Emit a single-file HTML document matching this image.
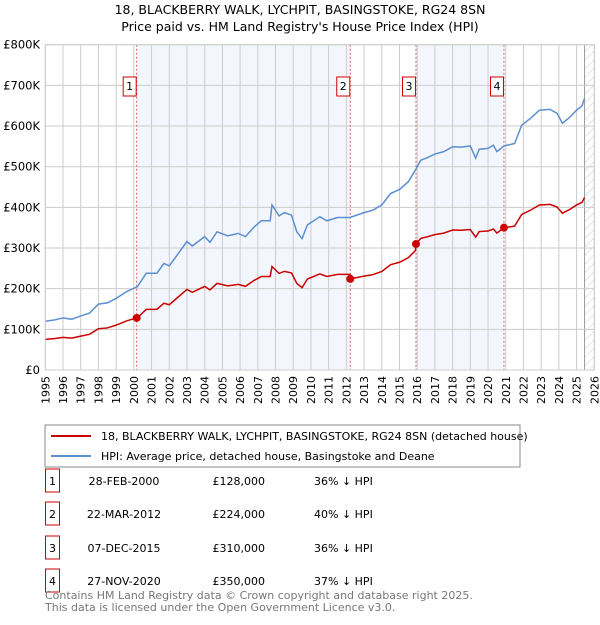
<!DOCTYPE html>
<html><head><meta charset="utf-8"><style>
body{margin:0;background:#fff;font-family:"Liberation Sans","DejaVu Sans",sans-serif;}
svg text{font-family:"DejaVu Sans","Liberation Sans",sans-serif;}
</style></head><body>
<svg id="c" width="600" height="620" xmlns="http://www.w3.org/2000/svg">
<defs><pattern id="hatch" width="6" height="6" patternUnits="userSpaceOnUse" patternTransform="rotate(45)"><line x1="0" y1="0" x2="0" y2="6" stroke="#ccc" stroke-width="1"/></pattern></defs>
<text x="300" y="14" text-anchor="middle" font-size="12.5" fill="#000">18, BLACKBERRY WALK, LYCHPIT, BASINGSTOKE, RG24 8SN</text>
<text x="300" y="31" text-anchor="middle" font-size="12.5" fill="#000">Price paid vs. HM Land Registry's House Price Index (HPI)</text>
<g id="plot"></g>
<rect x="45" y="425" width="475" height="42" fill="#fff" stroke="#888"/>
<line x1="51" y1="436" x2="91" y2="436" stroke="#cc0000" stroke-width="2"/>
<text x="101" y="440" font-size="11">18, BLACKBERRY WALK, LYCHPIT, BASINGSTOKE, RG24 8SN (detached house)</text>
<line x1="51" y1="456" x2="91" y2="456" stroke="#5b8fd0" stroke-width="2"/>
<text x="101" y="460" font-size="11">HPI: Average price, detached house, Basingstoke and Deane</text>
<g id="table" font-size="11"></g>
<text x="45" y="599" font-size="11" fill="#777">Contains HM Land Registry data © Crown copyright and database right 2025.</text>
<text x="45" y="611" font-size="11" fill="#777">This data is licensed under the Open Government Licence v3.0.</text>
</svg>
<script>
const hpiYears=[1995,1995.5,1996,1996.5,1997,1997.5,1998,1998.5,1999,1999.6,2000.2,2000.7,2001.3,2001.7,2002,2003,2003.3,2004,2004.3,2004.7,2005.3,2005.9,2006.3,2006.8,2007.2,2007.7,2007.8,2008.2,2008.5,2008.9,2009.2,2009.5,2009.8,2010.5,2010.9,2011.5,2012.2,2013,2013.5,2014,2014.5,2015,2015.5,2015.9,2016.2,2016.5,2017,2017.5,2018,2018.5,2019,2019.3,2019.5,2020,2020.3,2020.5,2020.9,2021.5,2021.9,2022.4,2022.9,2023.5,2023.9,2024.2,2024.6,2025,2025.3,2025.45];
const hpiValues=[120,123,128,125,133,140,162,165,176,193,205,238,238,262,256,316,305,328,314,340,330,336,328,352,367,367,406,379,387,381,340,323,357,377,367,375,375,387,393,406,434,444,463,492,516,521,531,537,549,548,551,521,543,545,553,537,551,557,602,619,639,641,631,607,621,639,649,668];
const saleLabels=["1","2","3","4"];
const saleDates=[2000.16,2012.22,2015.93,2020.9];
const saleDateText=["28-FEB-2000","22-MAR-2012","07-DEC-2015","27-NOV-2020"];
const salePrices=[128,224,310,350];
const saleDiff=["36% ↓ HPI","40% ↓ HPI","36% ↓ HPI","37% ↓ HPI"];
const yTicks=[0,100,200,300,400,500,600,700,800];
const yTickLabels=["£0","£100K","£200K","£300K","£400K","£500K","£600K","£700K","£800K"];
const xTicks=[1995,1996,1997,1998,1999,2000,2001,2002,2003,2004,2005,2006,2007,2008,2009,2010,2011,2012,2013,2014,2015,2016,2017,2018,2019,2020,2021,2022,2023,2024,2025,2026];

const NS="http://www.w3.org/2000/svg";
const L=45.3,R=594.3,T=44.7,B=370;
const X=y=>L+(y-1995)/(2026-1995)*(R-L);
const Y=v=>B-v/800*(B-T);
function mk(tag,attrs,parent){const e=document.createElementNS(NS,tag);for(const k in attrs)e.setAttribute(k,attrs[k]);parent.appendChild(e);return e;}
const P=document.getElementById('plot');
function hpiAt(t){for(let i=0;i<hpiYears.length-1;i++){if(t<=hpiYears[i+1]){const f=(t-hpiYears[i])/(hpiYears[i+1]-hpiYears[i]);return hpiValues[i]+f*(hpiValues[i+1]-hpiValues[i]);}}return hpiValues[hpiValues.length-1];}
// shaded bands
for(let i=0;i<saleDates.length;i+=2){
 const x1=X(saleDates[i]),x2=i+1<saleDates.length?X(saleDates[i+1]):X(2025.45);
 const r=mk('rect',{x:x1,y:T,width:x2-x1,height:B-T,fill:'#eef3fc',opacity:0.7},P);
 
 
}
const hx=X(2025.45);
const hr=mk('rect',{x:hx,y:T,width:R-hx,height:B-T,fill:'url(#hatch)'},P);


mk('line',{x1:hx,y1:T,x2:hx,y2:B,stroke:'#999','stroke-width':1},P);
xTicks.forEach(t=>{
 const g=mk('line',{x1:X(t),y1:T,x2:X(t),y2:B,stroke:'#ccc','stroke-width':1},P);
 
 
 const tx=mk('text',{x:0,y:0,transform:`translate(${X(t)+4},${B+6}) rotate(-90)`,'text-anchor':'end','font-size':11},P);
 tx.textContent=t;
 
 
});
yTicks.forEach((v,i)=>{
 const g=mk('line',{x1:L,y1:Y(v),x2:R,y2:Y(v),stroke:'#ccc','stroke-width':1},P);
 
 
 const tx=mk('text',{x:40,y:Y(v)+4,'text-anchor':'end','font-size':11.5},P);
 tx.textContent=yTickLabels[i];
 
 
});
// sale vlines and labels
saleDates.forEach((d,i)=>{
 const l=mk('line',{x1:X(d),y1:T,x2:X(d),y2:B,stroke:'#e06060','stroke-width':1,'stroke-dasharray':'2,2'},P);
 
 
 const b=mk('rect',{x:X(d)-13.5,y:77,width:13,height:19,fill:'#fff',stroke:'#cc0000'},P);
 
 
 const t=mk('text',{x:X(d)-7,y:90,'text-anchor':'middle','font-size':11},P);
 t.textContent=saleLabels[i];
 
 
});
// hpi line
const hp=mk('polyline',{points:hpiYears.map((t,i)=>X(t)+','+Y(hpiValues[i])).join(' '),fill:'none',stroke:'#5b8fd0','stroke-width':1.5},P);


// property line: HPI scaled through each sale
const ratios=saleDates.map((d,i)=>salePrices[i]/hpiAt(d));
function ratioAt(t){let k=0;for(let i=0;i<saleDates.length;i++)if(t>=saleDates[i])k=i;return ratios[k];}
const pts=[];
hpiYears.forEach((t,i)=>{pts.push([t,hpiValues[i]*ratioAt(t)]);});
saleDates.forEach((d,i)=>{pts.push([d,salePrices[i]]);});
pts.sort((a,b)=>a[0]-b[0]);
const rp=mk('polyline',{points:pts.map(p=>X(p[0])+','+Y(p[1])).join(' '),fill:'none',stroke:'#cc0000','stroke-width':1.5},P);


saleDates.forEach((d,i)=>{
 const c=mk('circle',{cx:X(d),cy:Y(salePrices[i]),r:4,fill:'#cc0000'},P);
 
 
});
mk('rect',{x:L,y:T,width:R-L,height:B-T,fill:'none',stroke:'#ccc'},P);
// table
const TB=document.getElementById('table');
const rowY=[481,514,548,581];
saleDates.forEach((d,i)=>{
 const y=rowY[i];
 const b=mk('rect',{x:45.5,y:y-12,width:14,height:23,fill:'#fff',stroke:'#cc0000'},TB);
 
 
 const cells=[[52.5,saleLabels[i],'middle'],[124,saleDateText[i],'middle'],[265,'£'+salePrices[i].toFixed(0).replace(/\B(?=(\d{3})+$)/,',')+',000'.slice(0,0)+'','end'],[314,saleDiff[i],'start']];
 cells[2][1]='£'+salePrices[i]+',000';
 cells.forEach(c=>{
  const t=mk('text',{x:c[0],y:y+4,'text-anchor':c[2],'font-size':11},TB);
  t.textContent=c[1];
  
  
 });
});
</script>
</body></html>
